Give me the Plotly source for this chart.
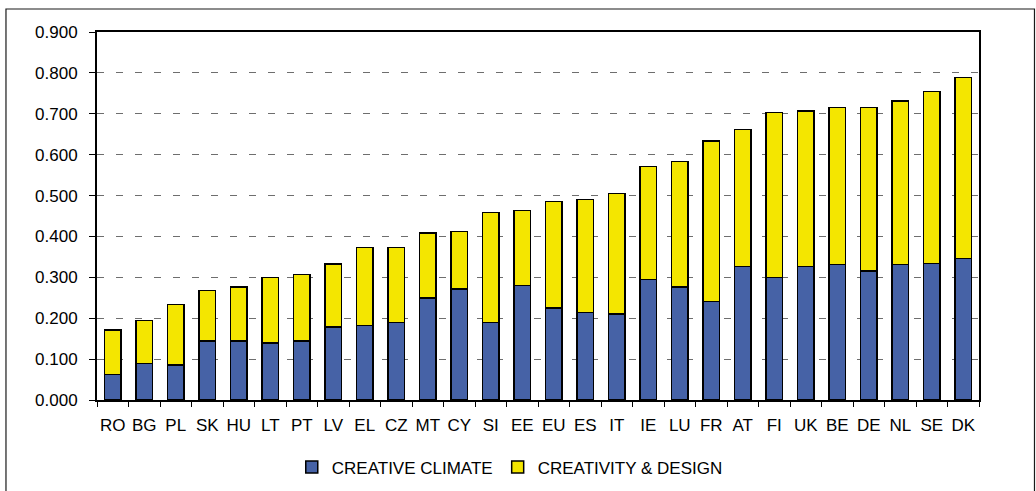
import plotly.graph_objects as go

# Country codes, ordered by total score
countries = ["RO", "BG", "PL", "SK", "HU", "LT", "PT", "LV", "EL", "CZ", "MT", "CY", "SI", "EE",
             "EU", "ES", "IT", "IE", "LU", "FR", "AT", "FI", "UK", "BE", "DE", "NL", "SE", "DK"]

# Creative climate component
creative_climate = [0.062, 0.089, 0.086, 0.144, 0.144, 0.139, 0.144, 0.179, 0.182, 0.190,
                    0.249, 0.272, 0.190, 0.280, 0.225, 0.214, 0.210, 0.295, 0.276, 0.241,
                    0.326, 0.299, 0.326, 0.331, 0.315, 0.331, 0.334, 0.346]

# Overall score (creative climate + creativity & design)
total_score = [0.171, 0.195, 0.233, 0.268, 0.276, 0.299, 0.307, 0.333, 0.373, 0.373,
               0.408, 0.412, 0.459, 0.463, 0.486, 0.490, 0.505, 0.571, 0.583, 0.633,
               0.661, 0.703, 0.707, 0.715, 0.715, 0.731, 0.754, 0.789]

creativity_design = [round(t - c, 3) for t, c in zip(total_score, creative_climate)]

FONT = "Liberation Sans, Arial, sans-serif"

fig = go.Figure()
fig.add_trace(go.Bar(
    x=countries, y=creative_climate, name="CREATIVE CLIMATE",
    marker=dict(color="#4662A6", line=dict(color="#000000", width=1.5)),
))
fig.add_trace(go.Bar(
    x=countries, y=creativity_design, name="CREATIVITY & DESIGN",
    marker=dict(color="#F4E600", line=dict(color="#000000", width=1.5)),
))

fig.update_layout(
    barmode="stack",
    bargap=0.48,
    width=1036, height=491,
    margin=dict(l=97, r=57, t=32, b=91, autoexpand=False),
    paper_bgcolor="white", plot_bgcolor="white",
    font=dict(family=FONT, size=17, color="#000000"),
    showlegend=True,
    legend=dict(orientation="h", x=0.468, xanchor="center",
                yref="container", y=0.048, yanchor="middle",
                font=dict(family=FONT, size=17, color="#000000"),
                itemwidth=30, traceorder="normal"),
    shapes=[dict(type="rect", xref="paper", yref="paper",
                 x0=-0.1032, x1=1.0629, y0=-0.3, y1=1.0625,
                 line=dict(color="#1a1a1a", width=1.2), layer="below")],
)

fig.update_yaxes(
    range=[0, 0.9], dtick=0.1, tick0=0, tickformat=".3f",
    showgrid=True, gridcolor="#6e6e6e", gridwidth=1.3, griddash="7px,12px",
    showline=True, linecolor="#000000", linewidth=2, mirror=True,
    ticks="outside", ticklen=6, tickcolor="#000000", tickwidth=1,
    ticklabelstandoff=8, zeroline=False, automargin=False,
)
fig.update_xaxes(
    showline=True, linecolor="#000000", linewidth=2, mirror=True,
    ticks="outside", ticklen=5, tickcolor="#000000", tickwidth=1,
    tickson="boundaries", showgrid=False, tickangle=0,
    ticklabelstandoff=9, automargin=False,
)

fig.write_html("out.html")
